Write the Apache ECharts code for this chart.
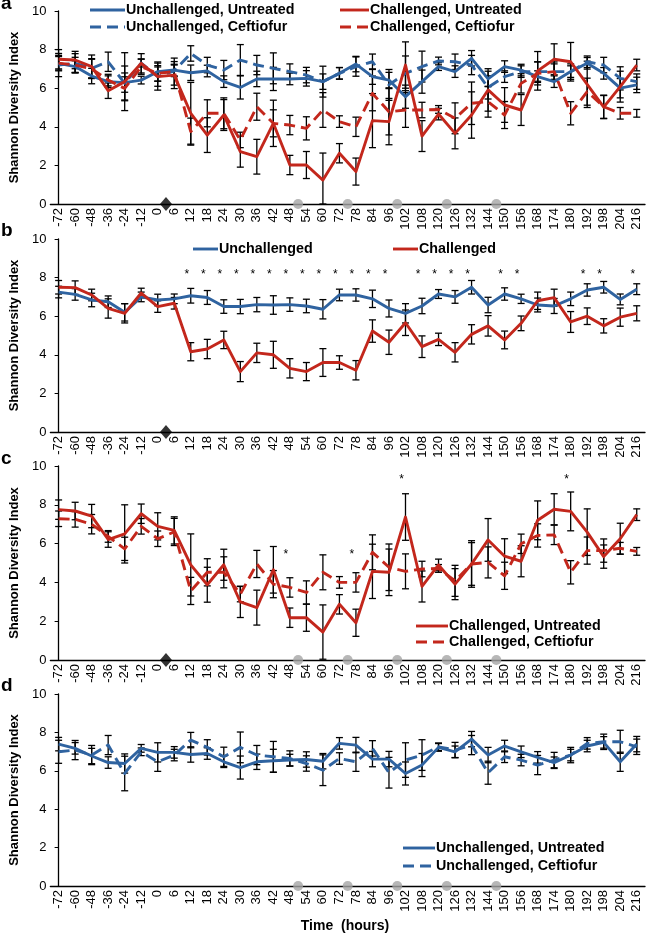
<!DOCTYPE html>
<html><head><meta charset="utf-8">
<script src="https://cdn.jsdelivr.net/npm/echarts@6/dist/echarts.min.js"></script>
<style>html,body{margin:0;padding:0;background:#fff}#c{width:647px;height:935px}</style>
</head><body><div id="c"></div>
<script>
// ---------- data ----------
const timeLabels = ['-72','-60','-48','-36','-24','-12','0','6','12','18','24','30','36','42','48','54','60','72','78','84','96','102','108','120','126','132','144','150','156','168','174','180','192','198','204','216'];

// panel a
const aUnchUntreated = [7.29,7.12,6.63,6.34,6.29,6.42,6.86,6.94,6.8,6.89,6.34,6.04,6.48,6.48,6.48,6.51,6.34,6.77,7.25,6.6,6.42,5.56,6.34,7.12,6.86,7.55,6.48,7.12,6.94,6.6,6.34,6.86,7.29,6.77,6.0,6.17];
const aUnchCeftiofur = [7.2,7.29,7.03,7.37,6.25,7.3,6.6,6.9,7.8,7.2,6.94,7.46,7.2,7.03,6.86,6.68,6.34,6.77,7.12,7.37,6.17,6.77,7.12,7.41,7.37,7.2,6.04,6.6,6.86,6.86,6.86,6.86,7.37,7.2,6.51,6.34];
const aChUntreated = [7.5,7.46,7.12,5.87,6.34,7.29,6.6,6.68,4.7,3.57,4.61,2.71,2.45,4.18,2.02,2.02,1.24,2.63,1.68,4.32,4.27,7.2,3.52,4.66,3.66,4.61,5.91,5.13,4.87,6.9,7.5,7.37,6.2,5.02,6.08,7.2];
const aChCeftiofur = [7.3,7.2,7.0,6.42,5.99,7.12,6.77,6.86,3.75,4.7,4.7,3.32,5.04,4.18,4.09,3.92,4.87,4.27,4.0,5.73,4.78,4.87,4.87,4.9,4.44,5.22,5.3,4.61,6.25,6.77,6.86,4.7,5.82,5.04,4.7,4.7];

// panel b
const bUnchallenged = [7.25,7.13,6.84,6.75,6.2,7.0,6.84,6.9,7.06,6.97,6.5,6.5,6.6,6.58,6.6,6.53,6.36,7.1,7.1,6.9,6.4,6.15,6.53,7.15,7.0,7.5,6.58,7.15,6.9,6.58,6.53,6.9,7.36,7.5,6.87,7.4];
const bUnchallengedErr = [0.3,0.3,0.35,0.3,0.45,0.25,0.3,0.25,0.38,0.36,0.35,0.37,0.37,0.48,0.35,0.35,0.5,0.3,0.32,0.45,0.44,0.5,0.4,0.23,0.33,0.35,0.4,0.32,0.24,0.36,0.39,0.35,0.32,0.3,0.28,0.28];
const bChallenged = [7.5,7.48,7.1,6.4,6.15,7.2,6.5,6.67,4.16,4.3,4.77,3.13,4.1,4.0,3.3,3.13,3.6,3.6,3.2,5.23,4.65,5.66,4.42,4.8,4.13,5.06,5.5,4.77,5.63,6.8,6.96,5.7,6.0,5.5,5.95,6.15];
const bChallengedErr = [0.35,0.35,0.3,0.5,0.5,0.25,0.3,0.3,0.47,0.5,0.45,0.52,0.5,0.7,0.5,0.47,0.72,0.35,0.5,0.58,0.63,0.66,0.56,0.32,0.5,0.5,0.53,0.46,0.38,0.45,0.44,0.54,0.43,0.37,0.47,0.39];
const bStarLabels = ['12','18','24','30','36','42','48','54','60','72','78','84','96','108','120','126','132','150','156','192','198','216'];
const bStarLevel = 8.3;

// panel c
const cChUntreated = [7.75,7.68,7.42,6.21,6.5,7.54,6.89,6.68,4.9,3.88,4.91,2.99,2.7,4.65,2.18,2.18,1.44,2.87,1.92,4.57,4.52,7.37,3.79,4.9,3.91,4.95,6.19,5.35,5.09,7.2,7.77,7.66,6.59,5.33,6.25,7.49];
const cChCeftiofur = [7.28,7.25,7.0,6.37,5.73,6.89,6.25,6.6,3.56,4.52,4.52,3.4,4.95,3.91,3.74,3.48,4.52,4.0,4.0,5.55,4.78,4.57,4.69,4.72,4.08,4.95,5.03,4.34,5.99,6.42,6.45,4.52,5.64,5.64,5.76,5.6];
const cStarLabels = ['48','78','102','180'];
const cStarLevels = [5.58,5.58,9.45,9.45];

// panel d
const dUnchUntreated = [7.39,7.17,6.77,6.43,6.38,7.17,6.96,6.96,6.85,6.9,6.47,6.17,6.47,6.52,6.56,6.59,6.5,7.43,7.34,6.61,6.61,5.86,6.3,7.22,6.99,7.65,6.82,7.29,6.99,6.7,6.42,6.82,7.29,7.48,6.47,7.39];
const dUnchCeftiofur = [6.99,7.08,6.82,7.34,5.86,6.99,6.47,6.82,7.6,7.22,6.73,7.22,6.82,6.73,6.64,6.38,6.03,6.64,6.47,7.17,5.9,6.56,6.82,7.25,7.08,7.34,5.9,6.73,6.56,6.3,6.56,6.82,7.43,7.51,7.51,7.25];

// error (SE) per group, used for panels a, c, d
const errUnchUntreated = [0.35,0.3,0.4,0.3,0.5,0.2,0.5,0.3,0.4,0.3,0.3,0.6,0.4,0.6,0.3,0.4,0.4,0.3,0.4,0.4,0.4,0.6,0.6,0.2,0.3,0.4,0.4,0.3,0.3,0.3,0.3,0.3,0.3,0.3,0.5,0.4];
const errUnchCeftiofur = [0.6,0.5,0.5,0.5,0.9,0.2,0.5,0.3,0.4,0.4,0.5,0.8,0.5,0.8,0.4,0.4,0.8,0.3,0.5,0.4,0.8,0.9,0.8,0.2,0.4,0.5,0.6,0.3,0.3,0.5,0.4,0.4,0.3,0.4,0.6,0.4];
const errChUntreated = [0.5,0.45,0.6,0.4,1.5,0.5,0.7,0.7,1.6,0.9,0.8,0.8,0.9,1.2,0.5,0.7,1.4,0.5,0.7,1.4,1.2,1.2,0.8,0.3,0.8,1.2,1.1,0.9,0.8,1.0,0.8,1.0,1.2,0.6,0.8,0.3];
const errChCeftiofur = [0.4,0.4,0.5,0.3,0.6,0.4,0.4,0.7,0.7,0.7,0.8,0.4,0.7,0.7,0.5,0.6,0.9,0.3,0.5,0.9,1.2,0.9,0.4,0.2,0.8,1.1,0.8,0.7,0.5,0.6,0.5,0.6,0.7,0.6,0.3,0.2];

// event times (hours): challenge and treatment doses
const challengeTimes = [3];
const treatmentTimes = [51,75,99,123,147];

// ---------- chart ----------
const FONT = '"Liberation Sans", Arial, Helvetica, sans-serif';
const BLUE = '#2f63a0', RED = '#c3271c';
const DASH = [11, 6];
const gridBoxes = [
  {top: 11, height: 193},
  {top: 239, height: 193},
  {top: 466, height: 194},
  {top: 694, height: 192}
];

function boundaryPos(t) {
  let k = 0;
  timeLabels.forEach((l, i) => { if (+l <= t) k = i; });
  return k + 0.5;
}

const grid = gridBoxes.map(g => ({left: 42, right: 2, top: g.top, height: g.height}));
const xAxis = [], yAxis = [], series = [];
gridBoxes.forEach((g, gi) => {
  xAxis.push({
    type: 'category', gridIndex: gi, data: timeLabels, boundaryGap: true,
    axisLine: {lineStyle: {color: '#000', width: 1.3}},
    axisTick: {length: 5, interval: 0, lineStyle: {color: '#000', width: 1}},
    axisLabel: {interval: 0, rotate: 90, fontSize: 13, color: '#000', fontFamily: FONT, margin: 4},
    splitLine: {show: false}
  });
  yAxis.push({
    type: 'value', gridIndex: gi, min: 0, max: 10, interval: 2,
    name: 'Shannon Diversity Index', nameLocation: 'middle', nameGap: 24, nameRotate: 90,
    nameTextStyle: {fontSize: 13, fontWeight: 'bold', color: '#000', fontFamily: FONT},
    axisLine: {show: true, lineStyle: {color: '#000', width: 1.3}},
    axisTick: {show: true, length: 4, lineStyle: {color: '#000'}},
    axisLabel: {fontSize: 13, color: '#000', fontFamily: FONT, margin: 4},
    splitLine: {show: false}
  });
});
gridBoxes.forEach((g, gi) => {
  xAxis.push({type: 'value', gridIndex: gi, min: -0.5, max: timeLabels.length - 0.5, show: false});
});

function addLine(gi, data, color, dashed) {
  series.push({
    type: 'line', xAxisIndex: gi, yAxisIndex: gi, data: data,
    symbol: 'none', showSymbol: false, silent: true, animation: false, z: 3,
    lineStyle: {color: color, width: 2.9, type: dashed ? DASH : 'solid', join: 'round'},
    itemStyle: {color: color}
  });
}
function addErr(gi, vals, errs) {
  series.push({
    type: 'custom', xAxisIndex: gi, yAxisIndex: gi, silent: true, animation: false, z: 2,
    encode: {x: 0, y: [1, 2]},
    data: vals.map((v, i) => [i, v - errs[i], v + errs[i]]),
    renderItem: function (params, api) {
      const x = api.value(0);
      const lo = api.coord([x, Math.max(0, api.value(1))]);
      const hi = api.coord([x, Math.min(10, api.value(2))]);
      const w = 3.5, st = {stroke: '#000', lineWidth: 1.3};
      return {type: 'group', children: [
        {type: 'line', shape: {x1: lo[0], y1: lo[1], x2: hi[0], y2: hi[1]}, style: st},
        {type: 'line', shape: {x1: lo[0] - w, y1: lo[1], x2: lo[0] + w, y2: lo[1]}, style: st},
        {type: 'line', shape: {x1: hi[0] - w, y1: hi[1], x2: hi[0] + w, y2: hi[1]}, style: st}
      ]};
    }
  });
}
function addStars(gi, labels, levels) {
  series.push({
    type: 'custom', xAxisIndex: gi, yAxisIndex: gi, silent: true, animation: false, z: 4,
    data: labels.map((l, i) => [timeLabels.indexOf(l), Array.isArray(levels) ? levels[i] : levels]),
    renderItem: function (params, api) {
      const p = api.coord([api.value(0), api.value(1)]);
      return {type: 'text', x: p[0] - 4, y: p[1] + 3,
        style: {text: '*', fill: '#000', font: '12px ' + FONT, align: 'center', verticalAlign: 'middle'}};
    }
  });
}
function addMarkers(gi, diamond, circles) {
  if (diamond) series.push({
    type: 'scatter', xAxisIndex: 4 + gi, yAxisIndex: gi, silent: true, animation: false, z: 5, clip: false,
    symbol: 'diamond', symbolSize: [12, 14], itemStyle: {color: '#000'},
    data: challengeTimes.map(t => [boundaryPos(t), 0])
  });
  if (circles) series.push({
    type: 'scatter', xAxisIndex: 4 + gi, yAxisIndex: gi, silent: true, animation: false, z: 5, clip: false,
    symbol: 'circle', symbolSize: 10, itemStyle: {color: '#a5a5a5'},
    data: treatmentTimes.map(t => [boundaryPos(t), 0])
  });
}

// panel a
addErr(0, aUnchUntreated, errUnchUntreated);
addErr(0, aUnchCeftiofur, errUnchCeftiofur);
addErr(0, aChUntreated, errChUntreated);
addErr(0, aChCeftiofur, errChCeftiofur);
addLine(0, aUnchUntreated, BLUE, false);
addLine(0, aUnchCeftiofur, BLUE, true);
addLine(0, aChUntreated, RED, false);
addLine(0, aChCeftiofur, RED, true);
addMarkers(0, true, true);
// panel b
addErr(1, bUnchallenged, bUnchallengedErr);
addErr(1, bChallenged, bChallengedErr);
addLine(1, bUnchallenged, BLUE, false);
addLine(1, bChallenged, RED, false);
addStars(1, bStarLabels, bStarLevel);
addMarkers(1, true, false);
// panel c
addErr(2, cChUntreated, errChUntreated);
addErr(2, cChCeftiofur, errChCeftiofur);
addLine(2, cChUntreated, RED, false);
addLine(2, cChCeftiofur, RED, true);
addStars(2, cStarLabels, cStarLevels);
addMarkers(2, true, true);
// panel d
addErr(3, dUnchUntreated, errUnchUntreated);
addErr(3, dUnchCeftiofur, errUnchCeftiofur);
addLine(3, dUnchUntreated, BLUE, false);
addLine(3, dUnchCeftiofur, BLUE, true);
addMarkers(3, false, true);

// legends & labels (graphic)
const graphic = [];
function legendItem(x1, x2, y, color, dashed, text) {
  graphic.push({type: 'line', shape: {x1: x1, y1: y, x2: x2, y2: y}, silent: true,
    style: {stroke: color, lineWidth: 2.9, lineDash: dashed ? DASH : null}});
  graphic.push({type: 'text', x: x2 + 1, y: y, silent: true,
    style: {text: text, fill: '#000', font: 'bold 14.3px ' + FONT, align: 'left', verticalAlign: 'middle'}});
}
legendItem(90, 125, 10, BLUE, false, 'Unchallenged, Untreated');
legendItem(90, 125, 27, BLUE, true, 'Unchallenged, Ceftiofur');
legendItem(340, 369, 10, RED, false, 'Challenged, Untreated');
legendItem(340, 369, 27, RED, true, 'Challenged, Ceftiofur');
legendItem(193, 218, 249, BLUE, false, 'Unchallenged');
legendItem(393, 418, 249, RED, false, 'Challenged');
legendItem(416, 448, 626, RED, false, 'Challenged, Untreated');
legendItem(416, 448, 642, RED, true, 'Challenged, Ceftiofur');
legendItem(403, 435, 848, BLUE, false, 'Unchallenged, Untreated');
legendItem(403, 435, 866, BLUE, true, 'Unchallenged, Ceftiofur');

[['a', 4], ['b', 231], ['c', 459], ['d', 686]].forEach(p => {
  graphic.push({type: 'text', x: 1, y: p[1], silent: true,
    style: {text: p[0], fill: '#000', font: 'bold 19px ' + FONT, align: 'left', verticalAlign: 'middle'}});
});
graphic.push({type: 'text', x: 345, y: 926, silent: true,
  style: {text: 'Time  (hours)', fill: '#000', font: 'bold 14px ' + FONT, align: 'center', verticalAlign: 'middle'}});

const chart = echarts.init(document.getElementById('c'));
chart.setOption({
  animation: false,
  backgroundColor: '#fff',
  grid: grid, xAxis: xAxis, yAxis: yAxis, series: series, graphic: graphic
});
</script>
</body></html>
